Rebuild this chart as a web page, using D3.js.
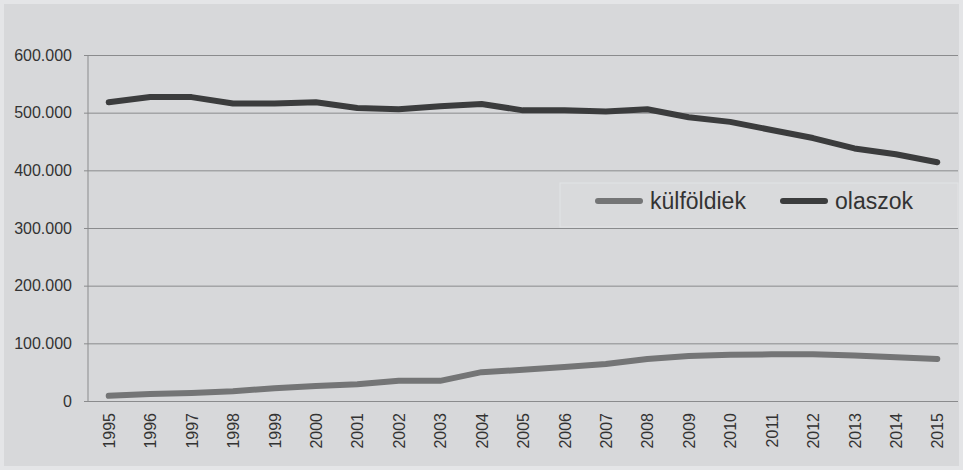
<!DOCTYPE html>
<html>
<head>
<meta charset="utf-8">
<script src="https://cdn.jsdelivr.net/npm/d3@7"></script>
<style>
  body { margin: 0; background: #fff; }
  svg { display: block; font-family: "Liberation Sans", Arial, sans-serif; }
</style>
</head>
<body>
<div id="vis"></div>
<script>
// constants for frame
const FRAME_WIDTH = 963;
const FRAME_HEIGHT = 470;
const MARGINS = {left: 88, right: 5, top: 55, bottom: 69};

// data
const years = ["1995","1996","1997","1998","1999","2000","2001","2002","2003","2004","2005",
               "2006","2007","2008","2009","2010","2011","2012","2013","2014","2015"];
const kulfoldiek = [9000, 12000, 14000, 17000, 22000, 26000, 29000, 35000, 35000, 50000, 54000,
                    59000, 64000, 73000, 78000, 80000, 81000, 81000, 79000, 76000, 73000];
const olaszok = [518000, 527000, 527000, 516000, 516000, 518000, 508000, 506000, 511000, 515000, 504000,
                 504000, 502000, 506000, 492000, 484000, 470000, 456000, 438000, 428000, 414000];
const yTicks = [0, 100000, 200000, 300000, 400000, 500000, 600000];
const seriesNames = ["külföldiek", "olaszok"];

const VIS_WIDTH = FRAME_WIDTH - MARGINS.left - MARGINS.right;
const VIS_HEIGHT = FRAME_HEIGHT - MARGINS.top - MARGINS.bottom;

const svg = d3.select("#vis")
  .append("svg")
    .attr("width", FRAME_WIDTH)
    .attr("height", FRAME_HEIGHT);

// background
svg.append("rect")
  .attr("x", 0).attr("y", 0)
  .attr("width", FRAME_WIDTH).attr("height", FRAME_HEIGHT)
  .attr("fill", "#e4e5e7");
svg.append("rect")
  .attr("x", 4).attr("y", 4)
  .attr("width", FRAME_WIDTH - 8).attr("height", FRAME_HEIGHT - 8)
  .attr("fill", "#d7d8da");

const X_SCALE = d3.scalePoint()
  .domain(years)
  .range([0, VIS_WIDTH])
  .padding(0.5);

const Y_SCALE = d3.scaleLinear()
  .domain([0, 600000])
  .range([VIS_HEIGHT, 0]);

const g = svg.append("g")
  .attr("transform", "translate(" + MARGINS.left + "," + MARGINS.top + ")");

const fmt = (d) => d3.format(",")(d).replace(/,/g, ".");

// y gridlines + labels
g.append("g")
  .call(d3.axisLeft(Y_SCALE).tickValues(yTicks).tickSize(-VIS_WIDTH - 4).tickFormat(fmt).tickPadding(12))
  .attr("transform", "translate(-4,0)")
  .call(ax => ax.select(".domain").remove())
  .call(ax => ax.selectAll("line").attr("stroke", "#8a8b8d").attr("stroke-width", 1))
  .call(ax => ax.selectAll("text").attr("font-size", 16).attr("fill", "#333"))
  .attr("font-family", null);

// y axis line
g.append("line")
  .attr("x1", 0).attr("x2", 0)
  .attr("y1", Y_SCALE(600000)).attr("y2", Y_SCALE(0))
  .attr("stroke", "#8a8b8d");

// x axis labels
g.append("g")
  .attr("transform", "translate(0," + VIS_HEIGHT + ")")
  .call(d3.axisBottom(X_SCALE).tickSize(0).tickPadding(0))
  .call(ax => ax.select(".domain").remove())
  .call(ax => ax.selectAll("text")
    .attr("font-size", 16)
    .attr("fill", "#333")
    .attr("transform", "rotate(-90)")
    .attr("text-anchor", "end")
    .attr("dy", "0.35em")
    .attr("x", -12)
    .attr("y", 0))
  .attr("font-family", null);

const line = d3.line()
  .x((d, i) => X_SCALE(years[i]))
  .y((d) => Y_SCALE(d));

g.append("path")
  .datum(kulfoldiek)
  .attr("d", line)
  .attr("fill", "none")
  .attr("stroke", "#747576")
  .attr("stroke-width", 6)
  .attr("stroke-linejoin", "round")
  .attr("stroke-linecap", "round");

g.append("path")
  .datum(olaszok)
  .attr("d", line)
  .attr("fill", "none")
  .attr("stroke", "#3b3c3d")
  .attr("stroke-width", 6)
  .attr("stroke-linejoin", "round")
  .attr("stroke-linecap", "round");

// legend
const legend = svg.append("g").attr("transform", "translate(560,183)");
legend.append("rect")
  .attr("width", 398).attr("height", 44)
  .attr("fill", "#d9dadc").attr("stroke", "#e2e3e5");
const legendColors = ["#747576", "#3b3c3d"];
const legendX = [38, 223];
seriesNames.forEach((name, i) => {
  legend.append("line")
    .attr("x1", legendX[i]).attr("x2", legendX[i] + 42)
    .attr("y1", 18).attr("y2", 18)
    .attr("stroke", legendColors[i]).attr("stroke-width", 6)
    .attr("stroke-linecap", "round");
  legend.append("text")
    .attr("x", legendX[i] + 52).attr("y", 18)
    .attr("dy", "0.35em")
    .attr("font-size", 23)
    .attr("fill", "#333")
    .text(name);
});
</script>
</body>
</html>
